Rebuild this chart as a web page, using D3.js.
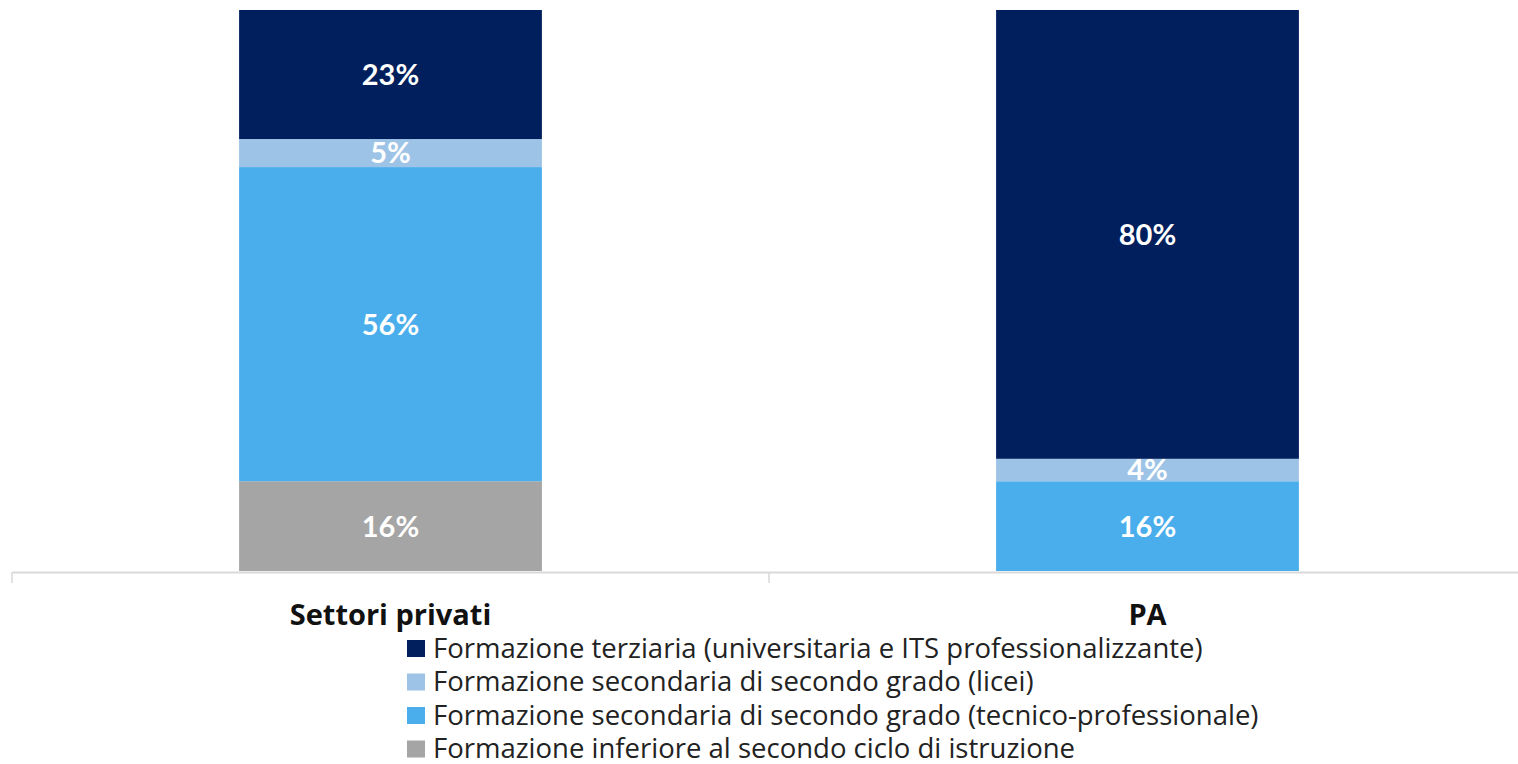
<!DOCTYPE html>
<html lang="it">
<head>
<meta charset="utf-8">
<title>Titolo di studio</title>
<script src="https://d3js.org/d3.v7.min.js"></script>
<style>
body { margin: 0; background: #fff; }
svg text { font-family: "Open Sans", Lato, sans-serif; }
.seg-label { fill: #fff; font-family: Lato, sans-serif; font-weight: 700; font-size: 29px; }
.cat-label { fill: #111; font-weight: 700; font-size: 29px; }
.legend text { fill: #222; font-size: 27.5px; }
</style>
</head>
<body>
<div id="chart"></div>
<script>
// categories and series
var categories = ["Settori privati", "PA"];
var seriesNames = [
  "Formazione terziaria (universitaria e ITS professionalizzante)",
  "Formazione secondaria di secondo grado (licei)",
  "Formazione secondaria di secondo grado (tecnico-professionale)",
  "Formazione inferiore al secondo ciclo di istruzione"
];
var terziaria = [23, 80];
var licei = [5, 4];
var tecnico = [56, 16];
var inferiore = [16, 0];
var colors = ["#001f5c", "#9dc3e6", "#4baeec", "#a5a5a5"];

var w = 1518, h = 764;
var svg = d3.select("#chart").append("svg")
  .attr("width", w).attr("height", h);

// stack from the bottom: inferiore, tecnico, licei, terziaria
var rows = categories.map(function(c, i) {
  return { cat: c, s0: terziaria[i], s1: licei[i], s2: tecnico[i], s3: inferiore[i] };
});
var stack = d3.stack().keys(["s3", "s2", "s1", "s0"]);
var layers = stack(rows);

var x = d3.scaleBand().domain(categories).range([12, 1526])
  .paddingInner(0.6).paddingOuter(0.3);
var y = d3.scaleLinear().domain([0, 100]).range([571, 10]);

var keyIndex = { s0: 0, s1: 1, s2: 2, s3: 3 };

var g = svg.selectAll("g.layer").data(layers).enter().append("g")
  .attr("class", "layer")
  .attr("fill", function(d) { return colors[keyIndex[d.key]]; });

g.selectAll("rect").data(function(d) { return d; }).enter().append("rect")
  .attr("x", function(d) { return x(d.data.cat); })
  .attr("width", x.bandwidth())
  .attr("y", function(d) { return y(d[1]); })
  .attr("height", function(d) { return y(d[0]) - y(d[1]); });

// value labels
layers.forEach(function(layer) {
  layer.forEach(function(d) {
    var v = d[1] - d[0];
    if (v <= 0) return;
    svg.append("text").attr("class", "seg-label")
      .attr("x", x(d.data.cat) + x.bandwidth() / 2)
      .attr("y", (y(d[0]) + y(d[1])) / 2)
      .attr("dy", "0.36em")
      .attr("text-anchor", "middle")
      .text(v + "%");
  });
});

// axis
var axis = svg.append("g").attr("transform", "translate(0,572)")
  .call(d3.axisBottom(x).tickSize(0).tickFormat(""));
axis.select(".domain").attr("stroke", "#d9d9d9").attr("stroke-width", 2);
// category separators
var step = x.step();
[12, 12 + step, 12 + 2 * step].forEach(function(t) {
  svg.append("line").attr("x1", t).attr("x2", t).attr("y1", 572).attr("y2", 583)
    .attr("stroke", "#d9d9d9").attr("stroke-width", 1.5);
});

svg.selectAll("text.cat-label").data(categories).enter().append("text")
  .attr("class", "cat-label")
  .attr("x", function(d) { return x(d) + x.bandwidth() / 2; })
  .attr("y", 625)
  .attr("text-anchor", "middle")
  .text(function(d) { return d; });

// legend
var legend = svg.append("g").attr("class", "legend").attr("transform", "translate(407,648)");
var li = legend.selectAll("g").data(seriesNames).enter().append("g")
  .attr("transform", function(d, i) { return "translate(0," + (i * 33.5) + ")"; });
li.append("rect").attr("x", 0).attr("y", -8).attr("width", 18).attr("height", 17)
  .attr("fill", function(d, i) { return colors[i]; });
li.append("text").attr("x", 26).attr("y", 0).attr("dy", "0.35em")
  .text(function(d) { return d; });
</script>
</body>
</html>
